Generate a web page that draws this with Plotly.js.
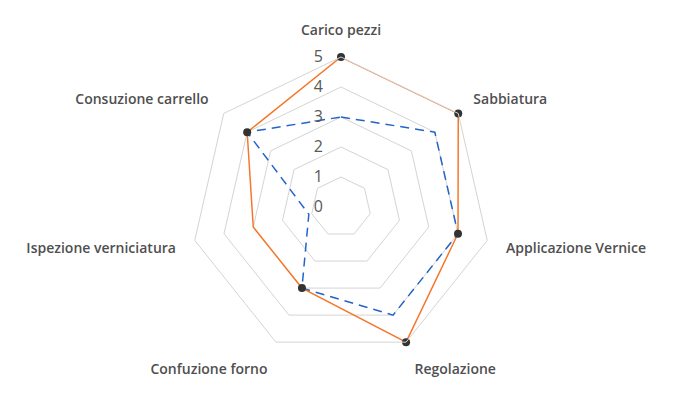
<!DOCTYPE html>
<html>
<head>
<meta charset="utf-8">
<script src="https://cdn.plot.ly/plotly-3.0.1.min.js"></script>
<style>html,body{margin:0;padding:0;background:#fff}#chart{width:700px;height:400px}</style>
</head>
<body>
<div id="chart"></div>
<script>
const categories = ["Carico pezzi", "Sabbiatura", "Applicazione Vernice", "Regolazione", "Confuzione forno", "Ispezione verniciatura", "Consuzione carrello"];
const seriesOrange = [5, 5, 4, 5, 3, 3, 4];
const seriesBlue = [3, 4, 4, 4, 3, 1.1, 4];
const orangeMarkerShown = [true, true, true, true, true, false, true];
const radialTicks = [0, 1, 2, 3, 4, 5];

const closeLoop = a => a.concat([a[0]]);

const traces = [
  {
    type: "scatterpolar",
    r: closeLoop(seriesBlue),
    theta: closeLoop(categories),
    mode: "lines",
    line: {color: "#2463c9", width: 1.5, dash: "9px,6px"},
    hoverinfo: "skip",
    showlegend: false
  },
  {
    type: "scatterpolar",
    r: closeLoop(seriesOrange),
    theta: closeLoop(categories),
    mode: "lines",
    line: {color: "#f5782a", width: 1.5},
    showlegend: false
  },
  {
    type: "scatterpolar",
    r: seriesOrange.map((v, i) => orangeMarkerShown[i] ? v : null),
    theta: categories,
    mode: "markers",
    marker: {color: "#333333", size: 8, line: {width: 0}},
    showlegend: false
  }
];

const layout = {
  width: 700,
  height: 400,
  margin: {l: 0, r: 18, t: 57, b: 43},
  paper_bgcolor: "#fff",
  showlegend: false,
  polar: {
    bgcolor: "#fff",
    gridshape: "linear",
    domain: {x: [0, 1], y: [0, 1]},
    radialaxis: {
      range: [0, 5],
      angle: 90,
      side: "counterclockwise",
      tickvals: radialTicks,
      ticktext: radialTicks.map(String),
      showline: false,
      showgrid: true,
      gridcolor: "#d4d4d4",
      gridwidth: 1,
      ticks: "outside",
      ticklen: 12,
      tickcolor: "rgba(0,0,0,0)",
      tickangle: 90,
      tickfont: {family: "Open Sans", size: 16, color: "#595959"}
    },
    angularaxis: {
      rotation: 90,
      direction: "clockwise",
      showline: true,
      linecolor: "#d4d4d4",
      linewidth: 1,
      showgrid: false,
      ticks: "outside",
      ticklen: 16,
      tickcolor: "rgba(0,0,0,0)",
      tickfont: {family: "Open Sans", size: 14, color: "#4f4f4f", weight: 600}
    }
  }
};

Plotly.newPlot("chart", traces, layout, {displayModeBar: false, staticPlot: true});
</script>
</body>
</html>
